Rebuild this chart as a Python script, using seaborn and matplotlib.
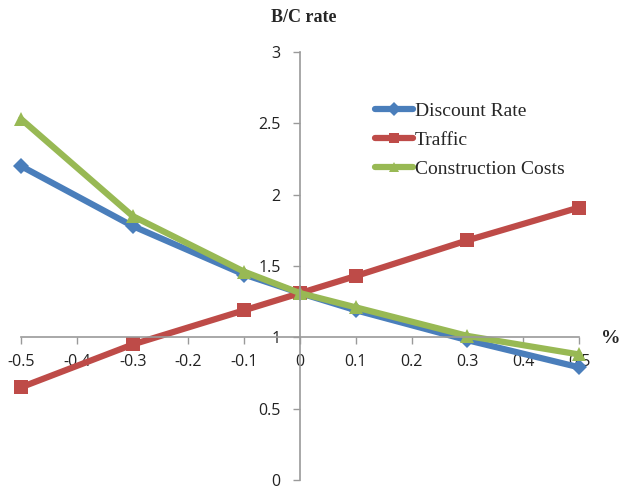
import matplotlib
matplotlib.use("Agg")
import matplotlib.pyplot as plt
import seaborn as sns
import pandas as pd

# Sensitivity of the benefit/cost ratio to changes in each input
changes = [-0.5, -0.3, -0.1, 0.0, 0.1, 0.3, 0.5]
discount_rate = [2.20, 1.78, 1.44, 1.31, 1.19, 0.98, 0.79]
traffic = [0.65, 0.95, 1.19, 1.31, 1.43, 1.68, 1.91]
construction_costs = [2.53, 1.85, 1.46, 1.31, 1.21, 1.01, 0.88]

series_names = ["Discount Rate", "Traffic", "Construction Costs"]
x_ticks = [-0.5, -0.4, -0.3, -0.2, -0.1, 0, 0.1, 0.2, 0.3, 0.4, 0.5]
x_tick_labels = ["-0.5", "-0.4", "-0.3", "-0.2", "-0.1", "0", "0.1", "0.2", "0.3", "0.4", "0.5"]
y_ticks = [0, 0.5, 1, 1.5, 2, 2.5, 3]
y_tick_labels = ["0", "0.5", "1", "1.5", "2", "2.5", "3"]

df = pd.DataFrame({
    "change": changes * 3,
    "bc": discount_rate + traffic + construction_costs,
    "series": [series_names[0]] * 7 + [series_names[1]] * 7 + [series_names[2]] * 7,
})

sns.set_style("white")
fig = plt.figure(figsize=(6.2, 4.86), dpi=100)
ax = fig.add_axes([0.034, 0.0123, 0.9, 0.8807])

palette = {"Discount Rate": "#4A7EBB", "Traffic": "#BE4B48", "Construction Costs": "#98B954"}
markers = {"Discount Rate": "D", "Traffic": "s", "Construction Costs": "^"}
sizes = {"Discount Rate": 8, "Traffic": 10, "Construction Costs": 10}

for name in series_names:
    sub = df[df["series"] == name]
    sns.lineplot(data=sub, x="change", y="bc", ax=ax, color=palette[name],
                 marker=markers[name], markersize=sizes[name], linewidth=4.5,
                 markeredgewidth=0, label=name, sort=False)

ax.set_xlim(-0.5, 0.5)
ax.set_ylim(0, 3)
ax.spines["left"].set_position(("data", 0))
ax.spines["bottom"].set_position(("data", 1))
ax.spines["right"].set_visible(False)
ax.spines["top"].set_visible(False)
for sp in ("left", "bottom"):
    ax.spines[sp].set_color("#9a9a9a")
    ax.spines[sp].set_linewidth(1.2)

ax.set_xticks(x_ticks)
ax.set_xticklabels(x_tick_labels)
ax.set_yticks(y_ticks)
ax.set_yticklabels(y_tick_labels)
ax.tick_params(axis="both", direction="out", length=5, width=1, color="#9a9a9a",
               labelsize=11.5, labelcolor="#222222", bottom=True, left=True)
ax.tick_params(axis="x", pad=7)
ax.tick_params(axis="y", pad=9)
for lbl in ax.get_xticklabels() + ax.get_yticklabels():
    lbl.set_family("Open Sans")
ax.set_xlabel("")
ax.set_ylabel("")
for line in ax.lines:
    line.set_clip_on(False)

fig.text(0.49, 0.963, "B/C rate", ha="center", va="center",
         fontsize=13, fontweight="bold", family="Liberation Serif")
fig.text(0.985, 0.303, "%", ha="center", va="center",
         fontsize=14, fontweight="bold", family="Liberation Serif")

leg = ax.legend(loc="upper left", bbox_to_anchor=(0.634, 0.883), frameon=False,
                prop={"family": "Liberation Serif", "size": 14},
                handlelength=1.95, handletextpad=0.1, labelspacing=0.6,
                borderaxespad=0, borderpad=0, numpoints=1)
for h in leg.legend_handles:
    h.set_markersize(7)
    h.set_linewidth(4.5)

fig.savefig("out.png", dpi=100)
